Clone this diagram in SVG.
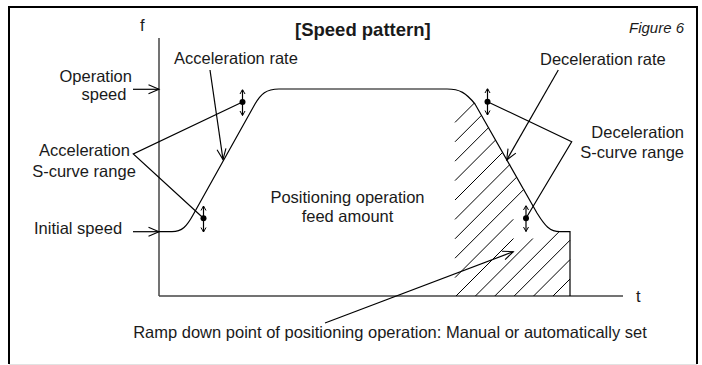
<svg xmlns="http://www.w3.org/2000/svg" width="702" height="365" viewBox="0 0 702 365">
<style>
.t{font-family:"Liberation Sans",Arial,sans-serif;font-size:16.5px;fill:#1a1a1a}
.b{font-weight:bold;font-size:18.5px}
.i{font-style:italic;font-size:15px}
.ln{stroke:#000;stroke-width:1.2;fill:none}
.ax{stroke:#444;stroke-width:1.5;fill:none}
.h{stroke:#000;stroke-width:1;fill:none}
.arr{marker-end:url(#open)}
.dbl{stroke:#000;stroke-width:1.2;fill:none;marker-start:url(#smallS);marker-end:url(#smallE)}
</style>
<defs>
<marker id="open" markerUnits="userSpaceOnUse" markerWidth="14" markerHeight="12" refX="11" refY="5" orient="auto" viewBox="0 0 14 10">
<path d="M0.5,0.5 L11,5 L0.5,9.5" fill="none" stroke="#000" stroke-width="1.1"/>
</marker>
<marker id="smallE" markerUnits="userSpaceOnUse" markerWidth="7" markerHeight="7" refX="5" refY="3" orient="auto" viewBox="0 0 7 6">
<path d="M0.5,0.5 L5,3 L0.5,5.5" fill="none" stroke="#000" stroke-width="1"/>
</marker>
<marker id="smallS" markerUnits="userSpaceOnUse" markerWidth="7" markerHeight="7" refX="0" refY="3" orient="auto" viewBox="0 0 7 6">
<path d="M4.5,0.5 L0,3 L4.5,5.5" fill="none" stroke="#000" stroke-width="1"/>
</marker>
</defs>
<rect width="702" height="365" fill="#fff"/>
<g id="frame">
<path d="M9,364 V7 H697 V364" fill="none" stroke="#000" stroke-width="2"/>
<line x1="9" y1="364.5" x2="697" y2="364.5" stroke="#e2e2e2" stroke-width="1"/>
</g>
<g id="title"><text class="t b" x="295" y="36">[Speed pattern]</text></g>
<g id="figure-label"><text class="t i" x="629" y="33">Figure 6</text></g>
<g id="axes">
<line class="ax" x1="159" y1="38" x2="159" y2="296"/>
<line class="ax" x1="159" y1="296" x2="623" y2="296"/>
<text class="t" x="140" y="31">f</text>
<text class="t" x="636" y="302">t</text>
</g>
<g id="hatch">
<path class="h" d="M455,122.4 L474.4,103 M455,141.8 L481.5,115.3 M455,161.2 L488.5,127.7 M455,180.6 L495.6,140 M455,200 L502.6,152.4 M455,219.4 L509.7,164.7 M455,238.8 L516.7,177.1 M455,258.2 L523.8,189.4 M455,277.6 L513.3,219.3 M456,296 L513.5,238.5 M475.4,296 L532.9,238.5 M494.8,296 L559,231.8 M514.2,296 L570,240.2 M533.6,296 L570,259.6 M553,296 L570,279"/>
</g>
<g id="speed-curve">
<path class="ln" d="M159,231.7 H172 C182,231.7 187,226 193,215 L255,104 C261,94 266,89 279,89 H447 C460,89 466,93 475,104 L537,213 C545,226 550,231.7 560,231.7 H570 V296"/>
</g>
<g id="accel-upper-point">
<line class="dbl" x1="242.5" y1="89.5" x2="242.5" y2="115.5"/>
<circle cx="242.5" cy="102" r="3"/>
</g>
<g id="accel-lower-point">
<line class="dbl" x1="203.5" y1="206" x2="203.5" y2="232"/>
<circle cx="203.5" cy="218.3" r="3"/>
</g>
<g id="decel-upper-point">
<line class="dbl" x1="487.5" y1="88.5" x2="487.5" y2="115"/>
<circle cx="487.5" cy="101.7" r="3"/>
</g>
<g id="decel-lower-point">
<line class="dbl" x1="526" y1="205.5" x2="526" y2="231.5"/>
<circle cx="526" cy="218.3" r="3"/>
</g>
<g id="label-operation-speed"><text class="t" x="59.5" y="81.5">Operation</text><text class="t" x="81.5" y="100">speed</text></g>
<g id="label-initial-speed"><text class="t" x="34" y="233.5">Initial speed</text></g>
<g id="label-accel-rate"><text class="t" x="174" y="63.5">Acceleration rate</text></g>
<g id="label-decel-rate"><text class="t" x="540" y="64.5">Deceleration rate</text></g>
<g id="label-accel-s"><text class="t" x="84.5" y="156" text-anchor="middle">Acceleration</text><text class="t" x="84" y="176.5" text-anchor="middle">S-curve range</text></g>
<g id="label-decel-s"><text class="t" x="684" y="138" text-anchor="end">Deceleration</text><text class="t" x="684" y="158" text-anchor="end">S-curve range</text></g>
<g id="label-feed"><text class="t" x="347.5" y="203.3" text-anchor="middle">Positioning operation</text><text class="t" x="347.5" y="221.7" text-anchor="middle">feed amount</text></g>
<g id="label-ramp"><text class="t" x="390" y="338.3" text-anchor="middle">Ramp down point of positioning operation: Manual or automatically set</text></g>
<g id="connectors">
<line class="ln arr" x1="133" y1="89.3" x2="159" y2="89.3"/>
<line class="ln arr" x1="133" y1="231.7" x2="159" y2="231.7"/>
<line class="ln arr" x1="210" y1="70" x2="223" y2="159.5"/>
<line class="ln arr" x1="558.3" y1="70" x2="506.7" y2="160"/>
<polyline class="ln" points="242.5,102 133.3,154 203.5,218.3"/>
<polyline class="ln" points="487.5,101.7 571.7,141.7 526,218.3"/>
<line class="ln arr" x1="325" y1="323" x2="513.3" y2="251.7"/>
</g>
</svg>
